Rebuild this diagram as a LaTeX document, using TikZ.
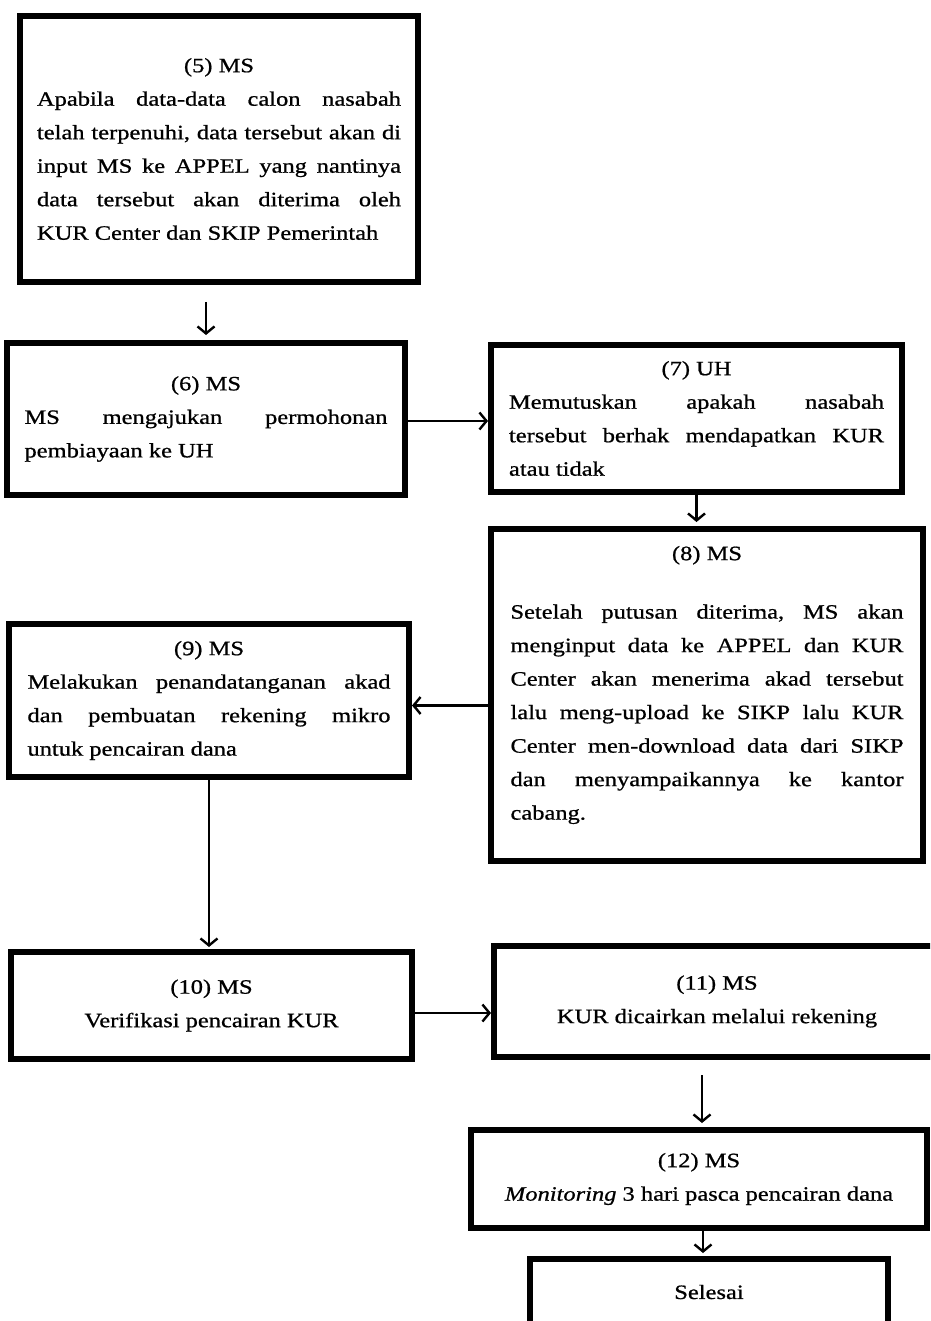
\documentclass[tikz,border=0pt]{standalone}
\usepackage{fontspec}
\setmainfont{Liberation Serif}[FakeStretch=1.2,FakeBold=0.8]
\usetikzlibrary{arrows.meta}
\newcommand{\boxfont}{\fontsize{20.4}{33.5}\selectfont\frenchspacing\tolerance=10000\hyphenpenalty=10000\exhyphenpenalty=10000}
\newcommand{\ttl}[1]{\hbox to\hsize{\hss#1\hss}\par}
\begin{document}
\begin{tikzpicture}[x=1pt,y=-1pt,
  box/.style={draw, line width=6pt, rectangle, inner sep=0pt, font=\boxfont},
  jbox/.style={box, align=justify},
  cbox/.style={box, align=center},
  conn/.style={line width=2.4pt, -{Straight Barb[length=7pt,width=17pt,line width=2.4pt]}}]
\clip (0,0) rectangle (930,1321);
\fill[white] (0,0) rectangle (930,1321);

\node[jbox, minimum width=398pt, minimum height=266pt, text width=364pt] (b5) at (219,149)
 {\ttl{(5) MS}Apabila data-data calon nasabah\linebreak telah terpenuhi, data tersebut akan di\linebreak input MS ke APPEL yang nantinya\linebreak data tersebut akan diterima oleh\linebreak KUR Center dan SKIP Pemerintah\par};

\node[jbox, minimum width=398pt, minimum height=152pt, text width=363pt] (b6) at (206,419)
 {\ttl{(6) MS}MS mengajukan permohonan\linebreak pembiayaan ke UH\par};

\node[jbox, minimum width=411pt, minimum height=147pt, text width=375pt] (b7) at (696.5,418.5)
 {\ttl{(7) UH}Memutuskan apakah nasabah\linebreak tersebut berhak mendapatkan KUR\linebreak atau tidak\par};

\node[jbox, minimum width=432pt, minimum height=332pt, text width=393pt] (b8) at (707,695)
 {\ttl{(8) MS}\kern25pt Setelah putusan diterima, MS akan\linebreak menginput data ke APPEL dan KUR\linebreak Center akan menerima akad tersebut\linebreak lalu meng-upload ke SIKP lalu KUR\linebreak Center men-download data dari SIKP\linebreak dan menyampaikannya ke kantor\linebreak cabang.\par\kern20pt};

\node[jbox, minimum width=400pt, minimum height=153pt, text width=363pt] (b9) at (209,700.5)
 {\ttl{(9) MS}Melakukan penandatanganan akad\linebreak dan pembuatan rekening mikro\linebreak untuk pencairan dana\par};

\node[cbox, minimum width=401pt, minimum height=107pt] (b10) at (211.5,1005.5)
 {(10) MS\\Verifikasi pencairan KUR};

\node[cbox, minimum width=446pt, minimum height=111pt] (b11) at (717,1001.5)
 {(11) MS\\KUR dicairkan melalui rekening};

\node[cbox, minimum width=456pt, minimum height=98pt] (b12) at (699,1179)
 {(12) MS\\\textit{Monitoring} 3 hari pasca pencairan dana};

\node[cbox, minimum width=358pt, minimum height=66pt] (b13) at (709,1292)
 {Selesai};

\draw[conn, shorten <=17pt, shorten >=5pt] (b6.north |- b5.south) -- (b6.north);
\draw[conn] ([yshift=-2pt]b6.east) -- ([yshift=-2pt]b6.east -| b7.west);
\draw[conn, shorten >=4pt] (b7.south) -- (b7.south |- b8.north);
\draw[conn] ([yshift=-5pt]b9.east -| b8.west) -- ([yshift=-5pt]b9.east);
\draw[conn, shorten >=2pt] (b9.south) -- (b9.south |- b10.north);
\draw[conn] ([yshift=-7.5pt]b10.east) -- ([yshift=-7.5pt]b10.east -| b11.west);
\draw[conn, shorten <=15pt, shorten >=4pt] ([xshift=3pt]b12.north |- b11.south) -- ([xshift=3pt]b12.north);
\draw[conn, shorten >=3pt] ([xshift=4pt]b12.south) -- ([xshift=4pt]b12.south |- b13.north);
\end{tikzpicture}
\end{document}
